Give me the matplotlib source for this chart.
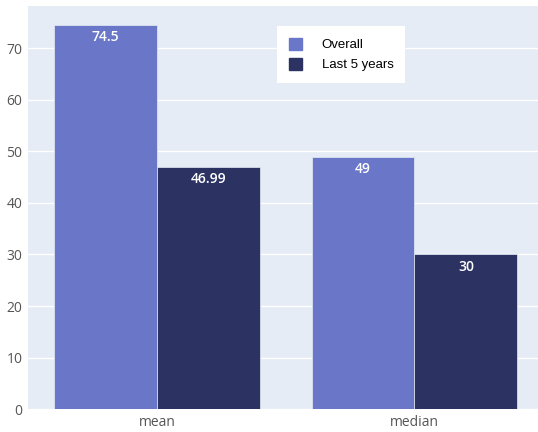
import numpy as np
import matplotlib.pyplot as plt
from matplotlib.patches import Patch

categories = ["mean", "median"]
overall = [74.5, 49]
last5 = [46.99, 30]
overall_labels = ["74.5", "49"]
last5_labels = ["46.99", "30"]

c_overall = "#6a77c8"
c_last5 = "#2c3363"

fig = plt.figure(figsize=(5.38, 4.32), dpi=100)
ax = fig.add_axes([0.052, 0.053, 0.948, 0.933])
ax.set_facecolor("#e5ecf6")

x = np.arange(len(categories))
w = 0.4
b1 = ax.bar(x - w / 2, overall, w, color=c_overall, edgecolor="#e5ecf6", linewidth=0.5, zorder=3)
b2 = ax.bar(x + w / 2, last5, w, color=c_last5, edgecolor="#e5ecf6", linewidth=0.5, zorder=3)

for bars, labs in [(b1, overall_labels), (b2, last5_labels)]:
    for r, lab in zip(bars, labs):
        ax.text(r.get_x() + r.get_width() / 2, r.get_height() - 1.0, lab,
                ha="center", va="top", color="white", fontsize=10,
                fontweight="semibold", family="Open Sans", zorder=4)

ax.set_xlim(-0.502, 1.48)
ax.set_ylim(0, 78.2)
ax.set_yticks(range(0, 80, 10))
ax.set_xticks(x)
ax.set_xticklabels(categories)
ax.grid(axis="y", color="white", linewidth=1, zorder=0)
ax.set_axisbelow(True)
for s in ax.spines.values():
    s.set_visible(False)
ax.tick_params(length=0, labelsize=10, colors="#555555", pad=4)
for t in ax.get_xticklabels() + ax.get_yticklabels():
    t.set_family("Open Sans")

handles = [Patch(color=c_overall, label="Overall"), Patch(color=c_last5, label="Last 5 years")]
leg = ax.legend(handles=handles, loc="upper left", bbox_to_anchor=(0.475, 0.967),
                frameon=True, fancybox=False, framealpha=1, edgecolor="white",
                prop={"family": "Liberation Sans", "size": 9.5},
                handlelength=1.0, handleheight=1.0, handletextpad=1.5,
                borderpad=0.9, labelspacing=0.5)
leg.get_frame().set_linewidth(0)

fig.savefig("out.png", dpi=100)
